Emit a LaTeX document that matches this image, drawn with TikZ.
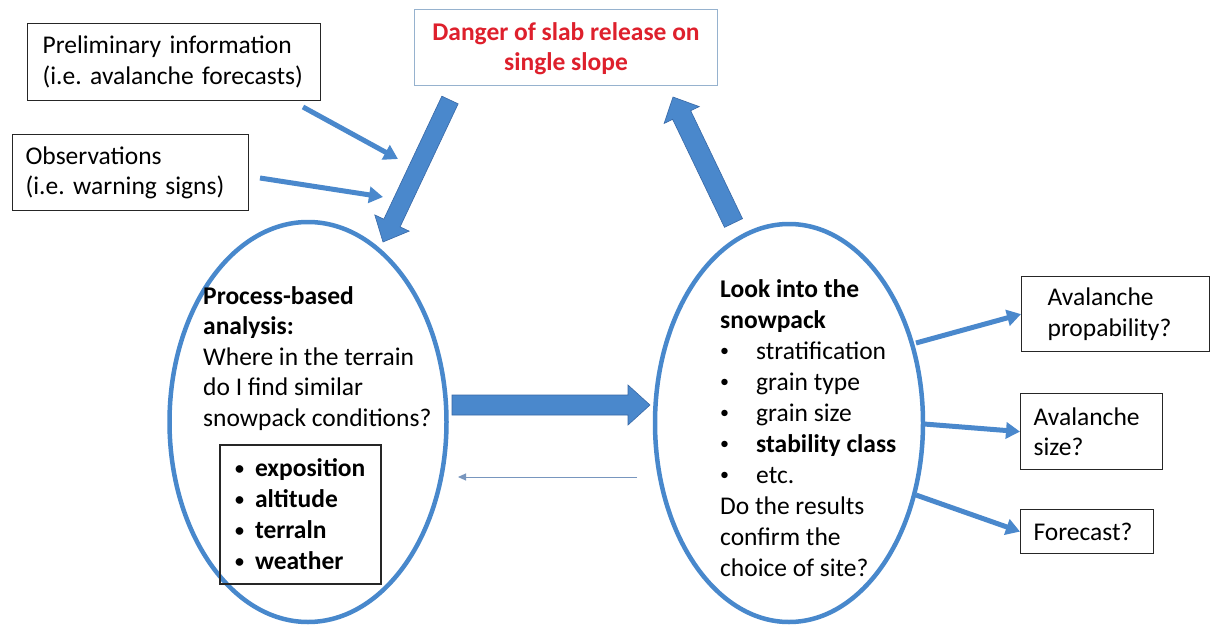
\documentclass[tikz,border=0pt]{standalone}
\usepackage{fontspec}
\setmainfont{Carlito}
\usetikzlibrary{arrows.meta,shapes.geometric,calc}
\definecolor{ellblue}{RGB}{72,136,204}
\definecolor{arrfill}{RGB}{74,136,204}
\definecolor{arredge}{RGB}{56,104,166}
\definecolor{dangerred}{RGB}{222,32,44}
\definecolor{topedge}{RGB}{150,178,206}
\definecolor{thinarrow}{RGB}{120,150,190}
\newcommand\fatarr[5]{%
  \coordinate (fa-h) at ($(#2)!#5!(#1)$);
  \filldraw[fatstyle] ($(#1)!#3!90:(#2)$) -- ($(fa-h)!#3!90:(#2)$) -- ($(fa-h)!#4!90:(#2)$) -- (#2)
    -- ($(fa-h)!#4!-90:(#2)$) -- ($(fa-h)!#3!-90:(#2)$) -- ($(#1)!#3!-90:(#2)$) -- cycle;}
\newcommand\bul[1]{\makebox[#1][l]{\raisebox{2.5pt}{\fontsize{18}{18}\selectfont •}}}
\frenchspacing
\begin{document}
\begin{tikzpicture}[x=1pt,y=-1pt,
  font=\fontsize{25.5}{30.5}\selectfont\frenchspacing,
  box/.style={draw=black!85, line width=1.2pt, inner ysep=0pt, align=left, anchor=north west},
  fatstyle/.style={fill=arrfill, draw=arredge, line width=0.6pt},
  thinblue/.style={draw=arrfill, line width=5pt, -{Triangle[length=14pt,width=16pt]}},
  ell/.style={draw=ellblue, line width=4.5pt, ellipse, inner sep=0pt}]
\fill[white] (0,0) rectangle (1210,626);
\useasboundingbox (0,0) rectangle (1210,626);

% boxes top left
\node[box, minimum width=293pt, minimum height=77pt, text width=269pt, inner xsep=12pt] (prelim) at (27,23)
  {\hspace*{3pt}Preliminary information\\\hspace*{3pt}(i.e. avalanche forecasts)};
\node[box, minimum width=236pt, minimum height=76pt, text width=210pt, inner xsep=13pt] (obs) at (12,134)
  {Observations\\(i.e. warning signs)};

% danger box
\node[draw=topedge, line width=1pt, minimum width=303pt, minimum height=76pt, align=center,
  text=dangerred, font=\fontsize{25.5}{30.5}\selectfont\bfseries, anchor=north west, inner sep=0pt]
  (danger) at (414,9) {\rule{0pt}{20pt}Danger of slab release on\\single slope};

% ellipses
\node[ell, minimum width=277pt, minimum height=400pt] (lell) at (308,422) {};
\node[ell, minimum width=268pt, minimum height=398pt] (rell) at (789,423) {};

% left ellipse text
\node[anchor=north west, inner sep=0pt, align=left] (ltext) at (203,286)
  {\textbf{Process-based}\\\textbf{analysis:}\\Where in the terrain\\do I find similar\\snowpack conditions?};
\node[box, anchor=center, minimum width=161pt, minimum height=139pt, text width=131pt, inner xsep=15pt,
  font=\fontsize{25.5}{31}\selectfont\bfseries] (factors) at (300.5,514.5)
  {\bul{20pt}exposition\\\bul{20pt}altitude\\\bul{20pt}terraln\\\bul{20pt}weather};

% right ellipse text
\node[anchor=north west, inner sep=0pt, align=left, font=\fontsize{25.5}{31}\selectfont] (rtext) at (720,279)
  {\textbf{Look into the}\\\textbf{snowpack}\\\bul{36pt}stratification\\\bul{36pt}grain type\\
   \bul{36pt}grain size\\\bul{36pt}\textbf{stability class}\\\bul{36pt}etc.\\
   Do the results\\confirm the\\choice of site?};

% right boxes
\node[box, minimum width=188pt, minimum height=75pt, text width=136pt, inner xsep=26pt] (prob) at (1021,276)
  {Avalanche\\propability?};
\node[box, minimum width=142pt, minimum height=76pt, text width=116pt, inner xsep=13pt] (size) at (1020,393)
  {Avalanche\\size?};
\node[box, minimum width=133pt, minimum height=44pt, text width=107pt, inner xsep=13pt] (fc) at (1020,509)
  {Forecast?};

% coordinates
\coordinate (pa) at (303,107);
\coordinate (pb) at (398,159);
\coordinate (oa) at (260,178);
\coordinate (ob) at (383,197);
\coordinate (fa1) at (450,100);
\coordinate (fa2) at (383,242);
\coordinate (fb1) at (733.5,223);
\coordinate (fb2) at (673,97);
\coordinate (fc1) at (452,405);
\coordinate (fc2) at (650,405);
\coordinate (ba1) at (637,477);
\coordinate (ba2) at (458,477);
\coordinate (r1) at (916,343);
\coordinate (r2) at (924,424);
\coordinate (r3) at (916,495);

% thin input arrows
\draw[thinblue] (pa) -- (pb);
\draw[thinblue] (oa) -- (ob);

% fat arrows
\fatarr{fa1}{fa2}{9pt}{19pt}{21pt}
\fatarr{fb1}{fb2}{10pt}{19.5pt}{20pt}
\fatarr{fc1}{fc2}{10pt}{20pt}{22pt}

% thin back arrow
\draw[thinarrow, line width=1pt, -{Triangle[length=8pt,width=7pt]}] (ba1) -- (ba2);

% output arrows
\draw[thinblue] (r1) -- (prob.west);
\draw[thinblue] (r2) -- (size.west);
\draw[thinblue] (r3) -- (fc.west);
\end{tikzpicture}
\end{document}
